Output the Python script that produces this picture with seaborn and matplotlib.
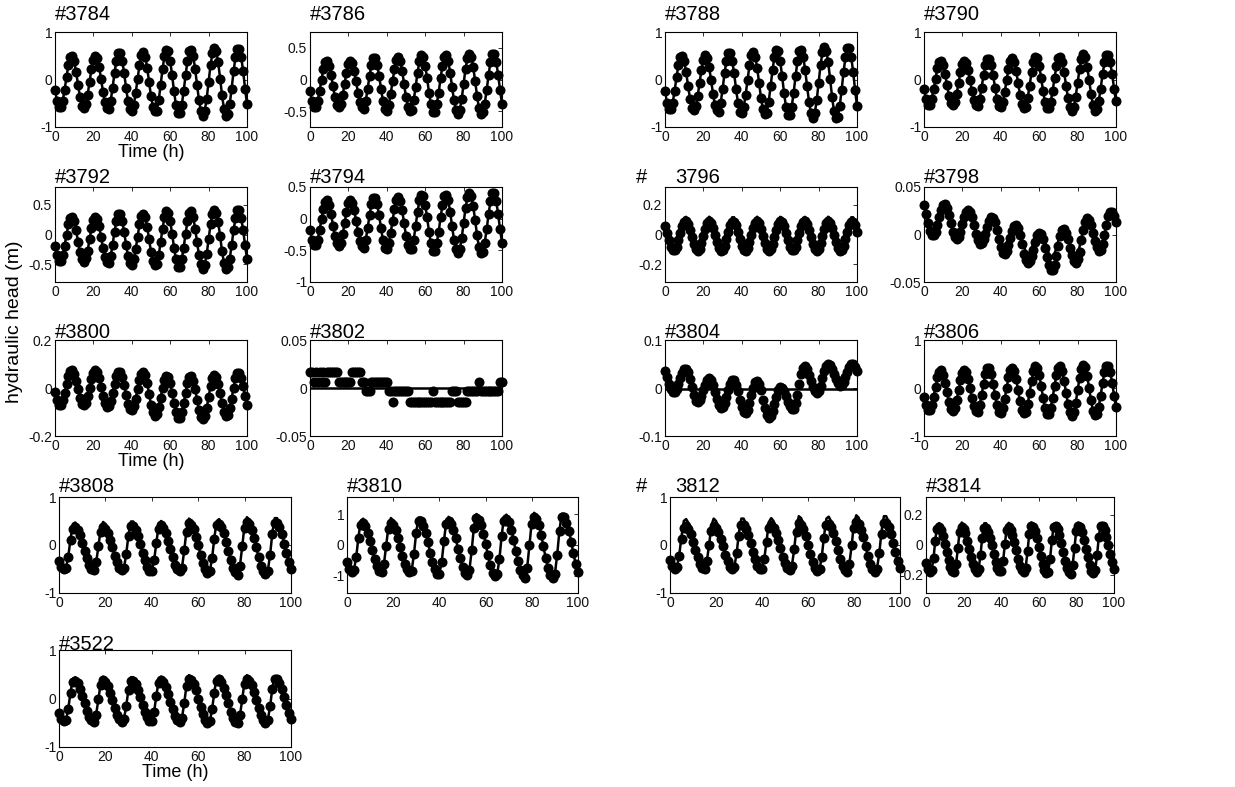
import matplotlib
matplotlib.use("Agg")
import numpy as np
import seaborn as sns
from matplotlib import pyplot as plt
from matplotlib import font_manager

# --
# Data (hourly samples)

hours = np.arange(0, 101)
flat_hours = [0, 100]

obs_3784 = [-0.22, -0.45, -0.58, -0.58, -0.45, -0.22, 0.06, 0.31, 0.47, 0.49,
            0.38, 0.16, -0.11, -0.36, -0.55, -0.60, -0.52, -0.32, -0.05, 0.22,
            0.42, 0.50, 0.45, 0.26, 0.01, -0.26, -0.48, -0.59, -0.63, -0.45,
            -0.17, 0.14, 0.40, 0.55, 0.55, 0.40, 0.14, -0.17, -0.45, -0.63,
            -0.66, -0.54, -0.29, 0.01, 0.30, 0.51, 0.57, 0.48, 0.25, -0.05,
            -0.35, -0.58, -0.67, -0.66, -0.44, -0.12, 0.22, 0.49, 0.62, 0.59,
            0.39, 0.09, -0.25, -0.54, -0.71, -0.71, -0.54, -0.25, 0.09, 0.39,
            0.59, 0.62, 0.49, 0.22, -0.12, -0.44, -0.66, -0.77, -0.66, -0.40,
            -0.05, 0.30, 0.56, 0.67, 0.60, 0.36, 0.02, -0.33, -0.62, -0.76,
            -0.73, -0.52, -0.19, 0.17, 0.47, 0.65, 0.65, 0.47, 0.17, -0.19, -0.52]

obs_3786 = [-0.18, -0.34, -0.43, -0.43, -0.34, -0.18, 0.00, 0.17, 0.28, 0.30,
            0.22, 0.07, -0.11, -0.28, -0.40, -0.44, -0.38, -0.25, -0.07, 0.11,
            0.24, 0.30, 0.26, 0.14, -0.03, -0.21, -0.36, -0.44, -0.46, -0.34,
            -0.15, 0.06, 0.23, 0.34, 0.34, 0.23, 0.06, -0.15, -0.34, -0.46,
            -0.49, -0.40, -0.23, -0.03, 0.17, 0.31, 0.35, 0.29, 0.14, -0.07,
            -0.28, -0.43, -0.49, -0.48, -0.33, -0.12, 0.11, 0.29, 0.38, 0.35,
            0.22, 0.02, -0.21, -0.39, -0.51, -0.51, -0.39, -0.21, 0.02, 0.22,
            0.35, 0.38, 0.29, 0.11, -0.12, -0.33, -0.48, -0.55, -0.48, -0.31,
            -0.07, 0.17, 0.34, 0.41, 0.36, 0.20, -0.02, -0.26, -0.45, -0.55,
            -0.52, -0.38, -0.17, 0.07, 0.28, 0.40, 0.40, 0.28, 0.07, -0.17, -0.38]

obs_3788 = [-0.24, -0.49, -0.63, -0.63, -0.49, -0.24, 0.05, 0.31, 0.48, 0.50,
            0.39, 0.16, -0.13, -0.40, -0.59, -0.65, -0.56, -0.35, -0.07, 0.21,
            0.42, 0.51, 0.45, 0.26, -0.01, -0.30, -0.53, -0.64, -0.68, -0.49,
            -0.20, 0.13, 0.40, 0.56, 0.56, 0.40, 0.13, -0.20, -0.49, -0.68,
            -0.71, -0.58, -0.32, -0.01, 0.30, 0.52, 0.58, 0.48, 0.25, -0.07,
            -0.39, -0.62, -0.72, -0.70, -0.47, -0.14, 0.20, 0.48, 0.62, 0.59,
            0.39, 0.07, -0.28, -0.57, -0.75, -0.75, -0.57, -0.28, 0.07, 0.39,
            0.59, 0.62, 0.48, 0.20, -0.14, -0.47, -0.70, -0.82, -0.71, -0.44,
            -0.07, 0.30, 0.57, 0.68, 0.61, 0.36, 0.01, -0.36, -0.66, -0.81,
            -0.78, -0.56, -0.22, 0.16, 0.47, 0.66, 0.66, 0.47, 0.16, -0.22, -0.56]

obs_3790 = [-0.21, -0.41, -0.53, -0.53, -0.41, -0.21, 0.02, 0.24, 0.37, 0.40,
            0.30, 0.11, -0.12, -0.34, -0.49, -0.54, -0.47, -0.30, -0.07, 0.16,
            0.33, 0.40, 0.35, 0.20, -0.02, -0.25, -0.44, -0.54, -0.56, -0.41,
            -0.17, 0.09, 0.30, 0.43, 0.43, 0.30, 0.09, -0.17, -0.41, -0.56,
            -0.58, -0.48, -0.27, -0.02, 0.23, 0.40, 0.45, 0.37, 0.18, -0.07,
            -0.32, -0.51, -0.59, -0.57, -0.39, -0.13, 0.15, 0.37, 0.48, 0.46,
            0.29, 0.04, -0.24, -0.47, -0.61, -0.61, -0.47, -0.24, 0.04, 0.29,
            0.46, 0.48, 0.37, 0.15, -0.13, -0.39, -0.57, -0.67, -0.58, -0.36,
            -0.07, 0.22, 0.44, 0.53, 0.47, 0.27, -0.01, -0.30, -0.54, -0.66,
            -0.63, -0.46, -0.19, 0.11, 0.36, 0.51, 0.51, 0.36, 0.11, -0.19, -0.46]

obs_3792 = [-0.19, -0.35, -0.45, -0.45, -0.35, -0.19, 0.00, 0.17, 0.28, 0.30,
            0.22, 0.07, -0.12, -0.30, -0.42, -0.46, -0.40, -0.27, -0.08, 0.11,
            0.24, 0.30, 0.26, 0.14, -0.04, -0.23, -0.38, -0.46, -0.48, -0.36,
            -0.17, 0.05, 0.23, 0.34, 0.34, 0.23, 0.05, -0.17, -0.36, -0.48,
            -0.51, -0.42, -0.25, -0.04, 0.17, 0.31, 0.35, 0.29, 0.13, -0.08,
            -0.29, -0.45, -0.51, -0.50, -0.35, -0.13, 0.10, 0.29, 0.39, 0.36,
            0.23, 0.01, -0.22, -0.42, -0.54, -0.54, -0.42, -0.22, 0.01, 0.23,
            0.36, 0.39, 0.29, 0.10, -0.13, -0.35, -0.50, -0.58, -0.51, -0.33,
            -0.08, 0.17, 0.35, 0.42, 0.37, 0.21, -0.03, -0.28, -0.48, -0.58,
            -0.55, -0.41, -0.18, 0.07, 0.28, 0.41, 0.41, 0.28, 0.07, -0.18, -0.41]

obs_3794 = [-0.18, -0.33, -0.42, -0.42, -0.33, -0.18, 0.00, 0.16, 0.27, 0.29,
            0.21, 0.07, -0.11, -0.28, -0.39, -0.43, -0.38, -0.25, -0.07, 0.11,
            0.24, 0.29, 0.25, 0.14, -0.03, -0.21, -0.35, -0.43, -0.46, -0.34,
            -0.15, 0.05, 0.23, 0.33, 0.33, 0.23, 0.05, -0.15, -0.34, -0.46,
            -0.48, -0.39, -0.23, -0.03, 0.16, 0.30, 0.34, 0.28, 0.13, -0.07,
            -0.27, -0.42, -0.48, -0.48, -0.33, -0.12, 0.11, 0.29, 0.38, 0.35,
            0.22, 0.02, -0.21, -0.39, -0.51, -0.51, -0.39, -0.21, 0.02, 0.22,
            0.35, 0.38, 0.29, 0.11, -0.12, -0.33, -0.48, -0.55, -0.48, -0.31,
            -0.07, 0.17, 0.34, 0.41, 0.36, 0.20, -0.02, -0.26, -0.45, -0.55,
            -0.52, -0.38, -0.17, 0.07, 0.28, 0.40, 0.40, 0.28, 0.07, -0.17, -0.38]

obs_3796 = [0.055, 0.01, -0.04, -0.082, -0.107, -0.107, -0.082, -0.04, 0.01, 0.055,
            0.084, 0.089, 0.069, 0.029, -0.02, -0.067, -0.10, -0.11, -0.095, -0.059,
            -0.01, 0.039, 0.075, 0.09, 0.08, 0.047, 0.00, -0.049, -0.089, -0.109,
            -0.104, -0.075, -0.03, 0.02, 0.062, 0.087, 0.087, 0.062, 0.02, -0.03,
            -0.075, -0.104, -0.109, -0.089, -0.049, 0.00, 0.047, 0.08, 0.09, 0.075,
            0.039, -0.01, -0.059, -0.095, -0.11, -0.10, -0.067, -0.02, 0.029, 0.069,
            0.089, 0.084, 0.055, 0.01, -0.04, -0.082, -0.107, -0.107, -0.082, -0.04,
            0.01, 0.055, 0.084, 0.089, 0.069, 0.029, -0.02, -0.067, -0.10, -0.11,
            -0.095, -0.059, -0.01, 0.039, 0.075, 0.09, 0.08, 0.047, 0.00, -0.049,
            -0.089, -0.109, -0.104, -0.075, -0.03, 0.02, 0.062, 0.087, 0.087, 0.062, 0.02]

sim_3796 = [0.078, 0.024, -0.036, -0.086, -0.116, -0.116, -0.086, -0.036, 0.024, 0.078,
            0.113, 0.119, 0.095, 0.047, -0.012, -0.068, -0.108, -0.12, -0.102, -0.059,
            0.0, 0.059, 0.102, 0.12, 0.108, 0.068, 0.012, -0.047, -0.095, -0.119,
            -0.113, -0.078, -0.024, 0.036, 0.086, 0.116, 0.116, 0.086, 0.036, -0.024,
            -0.078, -0.113, -0.119, -0.095, -0.047, 0.012, 0.068, 0.108, 0.12, 0.102,
            0.059, 0.0, -0.059, -0.102, -0.12, -0.108, -0.068, -0.012, 0.047, 0.095,
            0.119, 0.113, 0.078, 0.024, -0.036, -0.086, -0.116, -0.116, -0.086, -0.036,
            0.024, 0.078, 0.113, 0.119, 0.095, 0.047, -0.012, -0.068, -0.108, -0.12,
            -0.102, -0.059, 0.0, 0.059, 0.102, 0.12, 0.108, 0.068, 0.012, -0.047,
            -0.095, -0.119, -0.113, -0.078, -0.024, 0.036, 0.086, 0.116, 0.116, 0.086, 0.036]

obs_3798 = [0.031, 0.022, 0.012, 0.004, -0.001, -0.001, 0.003, 0.010, 0.018, 0.026,
            0.031, 0.032, 0.028, 0.021, 0.012, 0.003, -0.003, -0.005, -0.003, 0.003,
            0.011, 0.018, 0.024, 0.026, 0.024, 0.018, 0.010, 0.001, -0.006, -0.010,
            -0.009, -0.005, 0.001, 0.008, 0.014, 0.018, 0.017, 0.013, 0.005, -0.005,
            -0.013, -0.019, -0.020, -0.017, -0.011, -0.004, 0.004, 0.009, 0.010, 0.007,
            0.000, -0.010, -0.020, -0.027, -0.030, -0.028, -0.023, -0.016, -0.008, -0.001,
            0.002, 0.001, -0.005, -0.014, -0.024, -0.032, -0.037, -0.037, -0.032, -0.023,
            -0.012, -0.002, 0.005, 0.006, 0.002, -0.005, -0.014, -0.022, -0.028, -0.030,
            -0.026, -0.018, -0.006, 0.005, 0.013, 0.017, 0.015, 0.010, 0.002, -0.007,
            -0.013, -0.017, -0.016, -0.010, 0.000, 0.010, 0.019, 0.024, 0.024, 0.020, 0.013]

sim_3798 = [0.029, 0.021, 0.011, 0.003, -0.001, -0.002, 0.002, 0.009, 0.017, 0.024,
            0.029, 0.030, 0.026, 0.020, 0.011, 0.003, -0.002, -0.004, -0.002, 0.003,
            0.010, 0.017, 0.022, 0.024, 0.022, 0.017, 0.010, 0.002, -0.005, -0.008,
            -0.007, -0.004, 0.002, 0.008, 0.014, 0.017, 0.017, 0.013, 0.006, -0.002,
            -0.009, -0.013, -0.014, -0.012, -0.007, -0.001, 0.005, 0.009, 0.010, 0.008,
            0.002, -0.005, -0.012, -0.018, -0.020, -0.019, -0.015, -0.009, -0.003, 0.001,
            0.004, 0.003, -0.001, -0.007, -0.014, -0.020, -0.024, -0.024, -0.020, -0.014,
            -0.006, 0.001, 0.005, 0.006, 0.003, -0.003, -0.009, -0.016, -0.021, -0.022,
            -0.019, -0.013, -0.004, 0.005, 0.011, 0.014, 0.013, 0.008, 0.001, -0.005,
            -0.011, -0.014, -0.013, -0.008, 0.000, 0.009, 0.017, 0.021, 0.021, 0.018, 0.013]

obs_3800 = [-0.015, -0.049, -0.070, -0.070, -0.051, -0.021, 0.016, 0.049, 0.071, 0.074,
            0.060, 0.030, -0.006, -0.040, -0.065, -0.072, -0.061, -0.035, 0.002, 0.038,
            0.064, 0.075, 0.067, 0.042, 0.005, -0.033, -0.064, -0.079, -0.076, -0.054,
            -0.020, 0.018, 0.049, 0.068, 0.068, 0.047, 0.013, -0.028, -0.065, -0.089,
            -0.093, -0.077, -0.045, -0.005, 0.033, 0.060, 0.068, 0.054, 0.021, -0.024,
            -0.069, -0.102, -0.116, -0.108, -0.080, -0.040, 0.001, 0.034, 0.051, 0.047,
            0.021, -0.019, -0.064, -0.101, -0.123, -0.123, -0.101, -0.064, -0.020, 0.019,
            0.045, 0.049, 0.031, -0.005, -0.049, -0.091, -0.121, -0.130, -0.116, -0.083,
            -0.038, 0.008, 0.041, 0.055, 0.046, 0.018, -0.022, -0.064, -0.098, -0.115,
            -0.111, -0.084, -0.044, 0.002, 0.040, 0.062, 0.063, 0.042, 0.007, -0.034, -0.071]

obs_3802 = [0.017, 0.017, 0.006, 0.017, 0.006, 0.017, 0.006, 0.017, 0.006, 0.017,
            0.017, 0.017, 0.017, 0.017, 0.017, 0.006, 0.006, 0.006, 0.006, 0.006,
            0.006, 0.006, 0.017, 0.017, 0.017, 0.017, 0.017, 0.006, 0.006, -0.003,
            -0.003, -0.003, 0.006, 0.006, 0.006, 0.006, 0.006, 0.006, 0.006, 0.006,
            0.006, -0.003, -0.003, -0.015, -0.003, -0.003, -0.003, -0.003, -0.003, -0.003,
            -0.003, -0.003, -0.015, -0.015, -0.015, -0.015, -0.015, -0.015, -0.015, -0.015,
            -0.015, -0.015, -0.015, -0.015, -0.003, -0.015, -0.015, -0.015, -0.015, -0.015,
            -0.015, -0.015, -0.015, -0.015, -0.003, -0.003, -0.003, -0.015, -0.015, -0.015,
            -0.015, -0.015, -0.003, -0.003, -0.003, -0.003, -0.003, -0.003, 0.006, -0.003,
            -0.003, -0.003, -0.003, -0.003, -0.003, -0.003, -0.003, -0.003, -0.003, 0.006, 0.006]
sim_3802 = [0.0, 0.0]

obs_3804 = [0.035, 0.023, 0.009, -0.002, -0.009, -0.009, -0.003, 0.008, 0.020, 0.031,
            0.039, 0.040, 0.033, 0.019, 0.002, -0.015, -0.027, -0.030, -0.026, -0.017,
            -0.005, 0.007, 0.016, 0.020, 0.017, 0.007, -0.008, -0.023, -0.035, -0.042,
            -0.040, -0.032, -0.018, -0.004, 0.009, 0.016, 0.016, 0.007, -0.007, -0.024,
            -0.040, -0.050, -0.052, -0.045, -0.032, -0.015, 0.001, 0.012, 0.015, 0.009,
            -0.005, -0.024, -0.042, -0.056, -0.062, -0.059, -0.048, -0.033, -0.018, -0.005,
            0.002, 0.001, -0.006, -0.017, -0.029, -0.038, -0.044, -0.044, -0.032, -0.014,
            0.009, 0.029, 0.042, 0.045, 0.039, 0.028, 0.015, 0.002, -0.007, -0.010,
            -0.006, 0.005, 0.020, 0.035, 0.046, 0.050, 0.048, 0.040, 0.030, 0.019,
            0.010, 0.005, 0.006, 0.013, 0.023, 0.034, 0.044, 0.049, 0.049, 0.044, 0.036]
sim_3804 = [-0.003, -0.003]

obs_3806 = [-0.18, -0.35, -0.46, -0.46, -0.35, -0.18, 0.03, 0.22, 0.34, 0.37,
            0.28, 0.11, -0.09, -0.29, -0.43, -0.47, -0.41, -0.26, -0.05, 0.16,
            0.31, 0.37, 0.33, 0.19, -0.01, -0.21, -0.38, -0.47, -0.49, -0.36,
            -0.14, 0.09, 0.29, 0.41, 0.41, 0.29, 0.09, -0.14, -0.36, -0.49,
            -0.52, -0.42, -0.23, 0.00, 0.22, 0.37, 0.42, 0.35, 0.18, -0.05,
            -0.28, -0.45, -0.52, -0.50, -0.34, -0.10, 0.15, 0.35, 0.45, 0.42,
            0.28, 0.05, -0.20, -0.41, -0.54, -0.54, -0.41, -0.20, 0.05, 0.28,
            0.42, 0.45, 0.35, 0.15, -0.10, -0.34, -0.50, -0.58, -0.50, -0.31,
            -0.05, 0.21, 0.40, 0.48, 0.43, 0.25, 0.00, -0.26, -0.47, -0.57,
            -0.55, -0.39, -0.16, 0.11, 0.33, 0.46, 0.46, 0.33, 0.11, -0.16, -0.39]

obs_3808 = [-0.34, -0.45, -0.51, -0.48, -0.24, 0.10, 0.34, 0.37, 0.31, 0.20,
            0.05, -0.12, -0.28, -0.41, -0.49, -0.52, -0.36, -0.03, 0.27, 0.38,
            0.34, 0.25, 0.11, -0.05, -0.22, -0.36, -0.47, -0.52, -0.48, -0.18,
            0.18, 0.40, 0.40, 0.31, 0.18, 0.02, -0.16, -0.32, -0.45, -0.54,
            -0.54, -0.32, 0.04, 0.34, 0.41, 0.35, 0.24, 0.09, -0.09, -0.26,
            -0.41, -0.51, -0.55, -0.47, -0.11, 0.27, 0.45, 0.42, 0.33, 0.17,
            -0.01, -0.21, -0.38, -0.51, -0.58, -0.55, -0.27, 0.13, 0.41, 0.44,
            0.37, 0.24, 0.07, -0.13, -0.31, -0.47, -0.56, -0.62, -0.43, -0.03,
            0.35, 0.48, 0.44, 0.32, 0.15, -0.05, -0.25, -0.43, -0.55, -0.61,
            -0.54, -0.20, 0.22, 0.46, 0.46, 0.37, 0.22, 0.03, -0.17, -0.36, -0.51]

sim_3808 = [-0.34, -0.45, -0.51, -0.48, -0.24, 0.14, 0.44, 0.47, 0.40, 0.25,
            0.07, -0.12, -0.28, -0.41, -0.49, -0.52, -0.36, -0.03, 0.35, 0.48,
            0.44, 0.32, 0.15, -0.05, -0.22, -0.36, -0.47, -0.52, -0.48, -0.18,
            0.23, 0.49, 0.49, 0.39, 0.24, 0.04, -0.16, -0.32, -0.45, -0.54,
            -0.54, -0.32, 0.06, 0.42, 0.50, 0.44, 0.31, 0.12, -0.09, -0.26,
            -0.41, -0.51, -0.55, -0.47, -0.11, 0.33, 0.55, 0.51, 0.40, 0.22,
            0.00, -0.21, -0.38, -0.51, -0.58, -0.55, -0.27, 0.17, 0.50, 0.54,
            0.46, 0.30, 0.09, -0.13, -0.31, -0.47, -0.56, -0.62, -0.43, -0.02,
            0.42, 0.58, 0.53, 0.39, 0.19, -0.04, -0.25, -0.43, -0.55, -0.61,
            -0.54, -0.20, 0.27, 0.56, 0.56, 0.45, 0.27, 0.05, -0.17, -0.36, -0.51]

obs_3810 = [-0.55, -0.76, -0.86, -0.82, -0.38, 0.22, 0.66, 0.70, 0.60, 0.39,
            0.13, -0.17, -0.46, -0.69, -0.83, -0.88, -0.60, -0.02, 0.53, 0.72,
            0.66, 0.49, 0.24, -0.05, -0.34, -0.60, -0.78, -0.87, -0.83, -0.28,
            0.38, 0.77, 0.77, 0.62, 0.39, 0.09, -0.25, -0.55, -0.78, -0.93,
            -0.93, -0.54, 0.12, 0.67, 0.79, 0.69, 0.49, 0.21, -0.12, -0.43,
            -0.70, -0.89, -0.96, -0.80, -0.16, 0.54, 0.87, 0.81, 0.64, 0.37,
            0.02, -0.33, -0.64, -0.89, -1.01, -0.95, -0.44, 0.28, 0.79, 0.85,
            0.73, 0.48, 0.17, -0.18, -0.53, -0.80, -0.97, -1.08, -0.73, 0.00,
            0.68, 0.92, 0.84, 0.63, 0.32, -0.04, -0.41, -0.73, -0.96, -1.07,
            -0.93, -0.31, 0.44, 0.89, 0.89, 0.72, 0.45, 0.11, -0.27, -0.61, -0.88]

sim_3810 = [-0.55, -0.76, -0.86, -0.82, -0.38, 0.28, 0.79, 0.85, 0.73, 0.48,
            0.17, -0.17, -0.46, -0.69, -0.83, -0.88, -0.60, 0.00, 0.64, 0.87,
            0.79, 0.59, 0.30, -0.04, -0.34, -0.60, -0.78, -0.87, -0.83, -0.28,
            0.44, 0.89, 0.89, 0.72, 0.45, 0.11, -0.25, -0.55, -0.78, -0.93,
            -0.93, -0.54, 0.15, 0.77, 0.91, 0.80, 0.57, 0.25, -0.12, -0.43,
            -0.70, -0.89, -0.96, -0.80, -0.16, 0.62, 1.00, 0.94, 0.74, 0.43,
            0.04, -0.33, -0.64, -0.89, -1.01, -0.95, -0.44, 0.33, 0.91, 0.98,
            0.84, 0.56, 0.20, -0.18, -0.53, -0.80, -0.97, -1.08, -0.73, 0.01,
            0.77, 1.04, 0.95, 0.72, 0.37, -0.04, -0.41, -0.73, -0.96, -1.07,
            -0.93, -0.31, 0.50, 1.01, 1.01, 0.82, 0.51, 0.13, -0.27, -0.61, -0.88]

obs_3812 = [-0.32, -0.43, -0.49, -0.46, -0.22, 0.12, 0.36, 0.39, 0.33, 0.22,
            0.07, -0.10, -0.26, -0.39, -0.47, -0.50, -0.34, -0.01, 0.29, 0.40,
            0.36, 0.27, 0.13, -0.03, -0.20, -0.34, -0.45, -0.50, -0.45, -0.16,
            0.19, 0.41, 0.41, 0.33, 0.20, 0.04, -0.14, -0.30, -0.43, -0.51,
            -0.51, -0.29, 0.06, 0.35, 0.42, 0.36, 0.26, 0.11, -0.07, -0.24,
            -0.38, -0.48, -0.52, -0.43, -0.09, 0.28, 0.45, 0.42, 0.33, 0.19,
            0.01, -0.18, -0.35, -0.48, -0.54, -0.51, -0.24, 0.14, 0.41, 0.44,
            0.38, 0.25, 0.08, -0.11, -0.29, -0.43, -0.52, -0.57, -0.39, -0.01,
            0.35, 0.47, 0.43, 0.32, 0.16, -0.03, -0.22, -0.39, -0.51, -0.56,
            -0.49, -0.17, 0.22, 0.45, 0.45, 0.37, 0.23, 0.05, -0.15, -0.33, -0.47]

sim_3812 = [-0.32, -0.43, -0.49, -0.46, -0.22, 0.18, 0.50, 0.54, 0.46, 0.30,
            0.11, -0.10, -0.26, -0.39, -0.47, -0.50, -0.34, 0.00, 0.41, 0.55,
            0.50, 0.38, 0.19, -0.03, -0.20, -0.34, -0.45, -0.50, -0.45, -0.16,
            0.27, 0.55, 0.55, 0.45, 0.28, 0.07, -0.14, -0.30, -0.43, -0.51,
            -0.51, -0.29, 0.09, 0.48, 0.56, 0.50, 0.35, 0.15, -0.07, -0.24,
            -0.38, -0.48, -0.52, -0.43, -0.09, 0.37, 0.60, 0.56, 0.44, 0.26,
            0.02, -0.18, -0.35, -0.48, -0.54, -0.51, -0.24, 0.20, 0.55, 0.59,
            0.50, 0.33, 0.12, -0.11, -0.29, -0.43, -0.52, -0.57, -0.39, 0.00,
            0.46, 0.62, 0.57, 0.43, 0.22, -0.02, -0.22, -0.39, -0.51, -0.56,
            -0.49, -0.17, 0.30, 0.60, 0.60, 0.49, 0.31, 0.08, -0.15, -0.33, -0.47]

obs_3814 = [-0.119, -0.158, -0.177, -0.168, -0.087, 0.027, 0.108, 0.117, 0.098, 0.059,
            0.009, -0.047, -0.101, -0.144, -0.171, -0.18, -0.128, -0.018, 0.084, 0.12,
            0.108, 0.077, 0.03, -0.024, -0.08, -0.128, -0.162, -0.179, -0.158, -0.065,
            0.048, 0.116, 0.116, 0.09, 0.05, -0.002, -0.059, -0.11, -0.15, -0.176,
            -0.176, -0.108, 0.005, 0.098, 0.119, 0.102, 0.068, 0.02, -0.036, -0.09,
            -0.137, -0.168, -0.18, -0.152, -0.043, 0.074, 0.13, 0.12, 0.092, 0.045,
            -0.012, -0.072, -0.124, -0.166, -0.187, -0.177, -0.091, 0.031, 0.117, 0.127,
            0.106, 0.064, 0.012, -0.048, -0.105, -0.152, -0.18, -0.19, -0.134, -0.017,
            0.092, 0.13, 0.117, 0.084, 0.034, -0.024, -0.083, -0.134, -0.171, -0.188,
            -0.166, -0.067, 0.053, 0.125, 0.125, 0.098, 0.055, 0.0, -0.06, -0.115, -0.158]

sim_3814 = [-0.119, -0.158, -0.177, -0.168, -0.087, 0.038, 0.136, 0.146, 0.123, 0.076,
            0.017, -0.047, -0.101, -0.144, -0.171, -0.18, -0.128, -0.016, 0.107, 0.15,
            0.136, 0.098, 0.042, -0.023, -0.08, -0.128, -0.162, -0.179, -0.158, -0.065,
            0.064, 0.145, 0.145, 0.114, 0.065, 0.004, -0.059, -0.11, -0.15, -0.176,
            -0.176, -0.108, 0.011, 0.123, 0.148, 0.128, 0.087, 0.029, -0.036, -0.09,
            -0.137, -0.168, -0.18, -0.152, -0.043, 0.087, 0.15, 0.139, 0.107, 0.055,
            -0.010, -0.072, -0.124, -0.166, -0.187, -0.177, -0.091, 0.038, 0.136, 0.146,
            0.123, 0.076, 0.017, -0.048, -0.105, -0.152, -0.18, -0.19, -0.134, -0.016,
            0.107, 0.15, 0.136, 0.098, 0.042, -0.023, -0.083, -0.134, -0.171, -0.188,
            -0.166, -0.067, 0.064, 0.145, 0.145, 0.114, 0.065, 0.004, -0.06, -0.115, -0.158]

obs_3522 = [-0.30, -0.42, -0.47, -0.45, -0.21, 0.11, 0.35, 0.37, 0.32, 0.20,
            0.06, -0.10, -0.25, -0.38, -0.45, -0.48, -0.33, -0.02, 0.28, 0.38,
            0.35, 0.26, 0.12, -0.03, -0.19, -0.33, -0.43, -0.48, -0.42, -0.15,
            0.17, 0.37, 0.37, 0.29, 0.18, 0.03, -0.13, -0.28, -0.39, -0.47,
            -0.47, -0.27, 0.05, 0.32, 0.38, 0.33, 0.23, 0.09, -0.07, -0.22,
            -0.36, -0.45, -0.48, -0.40, -0.09, 0.25, 0.41, 0.38, 0.30, 0.17,
            0.00, -0.17, -0.32, -0.44, -0.50, -0.47, -0.22, 0.12, 0.37, 0.40,
            0.34, 0.22, 0.07, -0.10, -0.27, -0.40, -0.48, -0.51, -0.35, -0.01,
            0.30, 0.41, 0.37, 0.28, 0.13, -0.03, -0.20, -0.35, -0.45, -0.51,
            -0.44, -0.16, 0.19, 0.40, 0.40, 0.32, 0.19, 0.04, -0.14, -0.29, -0.42]

sim_3522 = [-0.30, -0.42, -0.47, -0.45, -0.21, 0.14, 0.41, 0.44, 0.38, 0.25,
            0.08, -0.10, -0.25, -0.38, -0.45, -0.48, -0.33, -0.01, 0.33, 0.45,
            0.41, 0.31, 0.15, -0.03, -0.19, -0.33, -0.43, -0.48, -0.42, -0.15,
            0.21, 0.44, 0.44, 0.35, 0.22, 0.05, -0.13, -0.28, -0.39, -0.47,
            -0.47, -0.27, 0.07, 0.38, 0.45, 0.39, 0.28, 0.12, -0.07, -0.22,
            -0.36, -0.45, -0.48, -0.40, -0.09, 0.29, 0.48, 0.45, 0.35, 0.20,
            0.01, -0.17, -0.32, -0.44, -0.50, -0.47, -0.22, 0.15, 0.44, 0.47,
            0.40, 0.26, 0.09, -0.10, -0.27, -0.40, -0.48, -0.51, -0.35, -0.01,
            0.35, 0.48, 0.44, 0.33, 0.16, -0.03, -0.20, -0.35, -0.45, -0.51,
            -0.44, -0.16, 0.23, 0.46, 0.46, 0.37, 0.23, 0.05, -0.14, -0.29, -0.42]

# where the model line sits right on the observations it is drawn through them
panels = [
    # name, obs, sim x, sim y, ylim, yticks, (left, top, right, bottom) px, title gap px, time label, split title
    ("3784", obs_3784, hours, obs_3784, (-1, 1), [-1, 0, 1], (55, 32, 247, 127), 12, True, False),
    ("3786", obs_3786, hours, obs_3786, (-0.75, 0.75), [-0.5, 0, 0.5], (310, 32, 502, 127), 12, False, False),
    ("3788", obs_3788, hours, obs_3788, (-1, 1), [-1, 0, 1], (665, 32, 857, 127), 12, False, False),
    ("3790", obs_3790, hours, obs_3790, (-1, 1), [-1, 0, 1], (924, 32, 1116, 127), 12, False, False),
    ("3792", obs_3792, hours, obs_3792, (-0.8, 0.8), [-0.5, 0, 0.5], (55, 187, 247, 282), 4, False, False),
    ("3794", obs_3794, hours, obs_3794, (-1, 0.5), [-1, -0.5, 0, 0.5], (310, 187, 502, 282), 4, False, False),
    ("3796", obs_3796, hours, sim_3796, (-0.32, 0.32), [-0.2, 0, 0.2], (665, 187, 857, 282), 4, False, True),
    ("3798", obs_3798, hours, sim_3798, (-0.05, 0.05), [-0.05, 0, 0.05], (924, 187, 1116, 282), 4, False, False),
    ("3800", obs_3800, hours, obs_3800, (-0.2, 0.2), [-0.2, 0, 0.2], (55, 340, 247, 436), 2, True, False),
    ("3802", obs_3802, flat_hours, sim_3802, (-0.05, 0.05), [-0.05, 0, 0.05], (310, 340, 502, 436), 2, False, False),
    ("3804", obs_3804, flat_hours, sim_3804, (-0.1, 0.1), [-0.1, 0, 0.1], (665, 340, 857, 436), 2, False, False),
    ("3806", obs_3806, hours, obs_3806, (-1, 1), [-1, 0, 1], (924, 340, 1116, 436), 2, False, False),
    ("3808", obs_3808, hours, sim_3808, (-1, 1), [-1, 0, 1], (59, 497, 291, 593), 5, False, False),
    ("3810", obs_3810, hours, sim_3810, (-1.55, 1.55), [-1, 0, 1], (347, 497, 578, 593), 5, False, False),
    ("3812", obs_3812, hours, sim_3812, (-1, 1), [-1, 0, 1], (670, 497, 900, 593), 5, False, True),
    ("3814", obs_3814, hours, sim_3814, (-0.32, 0.32), [-0.2, 0, 0.2], (926, 497, 1114, 593), 5, False, False),
    ("3522", obs_3522, hours, sim_3522, (-1, 1), [-1, 0, 1], (59, 650, 291, 747), 0, True, False),
]

# --
# Style

sns.set_style("white")
names = {f.name for f in font_manager.fontManager.ttflist}
if "Liberation Sans Narrow" in names:
    family = "Liberation Sans Narrow"
    fs_title, fs_tick, fs_time, fs_ylab = 15.5, 10.5, 13.5, 15
else:
    family = "Liberation Sans"
    fs_title, fs_tick, fs_time, fs_ylab = 14.5, 10, 13, 14
plt.rcParams["font.family"] = [family, "DejaVu Sans"]
plt.rcParams["axes.unicode_minus"] = False

W, H = 1235, 787
fig = plt.figure(figsize=(W / 100, H / 100), dpi=100)
fig.patch.set_facecolor("white")


def fmt(v):
    return "%g" % v


for name, obs, sx, sy, ylim, yticks, box, gap, time_label, split in panels:
    left, top, right, bottom = box
    w, h = right - left, bottom - top
    ax = fig.add_axes([left / W, 1 - bottom / H, w / W, h / H])

    sns.scatterplot(x=hours, y=obs, ax=ax, color="k", s=52, linewidth=0,
                    zorder=2, clip_on=False, legend=False)
    sns.lineplot(x=sx, y=sy, ax=ax, color="k", linewidth=1.8,
                 estimator=None, sort=False, zorder=3, legend=False)

    ax.set_xlim(0, 100)
    ax.set_ylim(*ylim)
    ax.set_xticks([0, 20, 40, 60, 80, 100])
    ax.set_xticklabels(["0", "20", "40", "60", "80", "100"])
    ax.set_yticks(yticks)
    ax.set_yticklabels([fmt(v) for v in yticks])
    ax.tick_params(direction="in", length=3, width=0.6, top=True, right=True,
                   labelsize=fs_tick, pad=2, colors="#111111")
    for sp in ax.spines.values():
        sp.set_color("k")
        sp.set_linewidth(0.8)
    ax.set_ylabel("")
    if time_label:
        ax.set_xlabel("Time (h)", fontsize=fs_time, labelpad=0, color="k")
    else:
        ax.set_xlabel("")

    ty = 1 + gap / h
    if split:
        ax.text((636 - left) / w, ty, "#", transform=ax.transAxes,
                ha="left", va="baseline", fontsize=fs_title, color="k")
        ax.text((675 - left) / w, ty, name, transform=ax.transAxes,
                ha="left", va="baseline", fontsize=fs_title, color="k")
    else:
        ax.text(0, ty, "#" + name, transform=ax.transAxes,
                ha="left", va="baseline", fontsize=fs_title, color="k")

fig.text(15 / W, 1 - 322 / H, "hydraulic head (m)", rotation=90,
         ha="center", va="center", fontsize=fs_ylab, color="k")

fig.savefig("out.png", dpi=100)
